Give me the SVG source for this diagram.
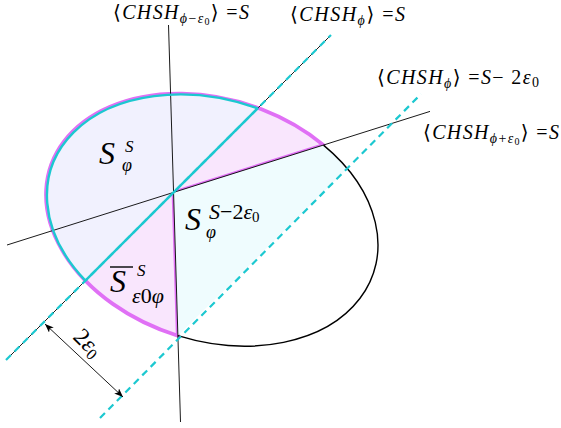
<svg xmlns="http://www.w3.org/2000/svg" width="561" height="428" viewBox="0 0 561 428">
<style>
.i{font-style:italic}
.thin{stroke:#000;stroke-width:0.9;fill:none}
.dash{stroke:#1cc8d0;stroke-width:2.2;stroke-dasharray:7 5;fill:none}
</style>
<defs>
<marker id="ah" viewBox="0 0 10 8" refX="10" refY="4" markerWidth="9" markerHeight="7" markerUnits="userSpaceOnUse" orient="auto-start-reverse"><path d="M0,0 L10,4 L0,8 L2.5,4 Z" fill="#000"/></marker>
</defs>
<g id="regions">
<path id="magenta-region" d="M173.5,192.5 L323.5,145.1 A170 120.8 17.9 1 0 177.8,335.7 Z" fill="#f9e6fd" stroke="#e070f5" stroke-width="3.8" stroke-linejoin="round"/>
<path id="cyan-wedge" d="M173.5,192.5 L323.5,145.1 A170 120.8 17.9 0 1 346.5,169.5 L177.8,335.7 Z" fill="#effcfe"/>
<path id="lavender-region" d="M257.6,108.4 A170 120.8 17.9 0 0 85.4,280.6 Z" fill="#f1f1fe"/>
<path id="ellipse-black-arc" d="M323.5,145.1 A170 120.8 17.9 0 1 177.8,335.7" fill="none" stroke="#000" stroke-width="1.4"/>
</g>
<g id="connectors">
<line class="thin" x1="168.5" y1="25" x2="180.5" y2="422"/>
<line class="thin" x1="7" y1="245" x2="430" y2="111.4"/>
<line class="thin" x1="6" y1="360" x2="331" y2="35"/>
<path d="M257.6,108.4 A170 120.8 17.9 0 0 85.4,280.6 Z" fill="none" stroke="#1cc8d0" stroke-width="2.4" stroke-linejoin="round"/>
<line class="dash" x1="6" y1="360" x2="331" y2="35"/>
<line class="dash" x1="100" y1="418" x2="421" y2="94"/>
<line x1="45" y1="324" x2="123" y2="397" stroke="#000" stroke-width="0.9" marker-start="url(#ah)" marker-end="url(#ah)"/>
</g>
<g id="labels" font-family="'Liberation Serif', 'DejaVu Serif', serif" fill="#000">
<text x="113" y="19" font-size="20" textLength="136" lengthAdjust="spacing">⟨<tspan class="i">CHSH</tspan><tspan class="i" font-size="14" dy="4">ϕ</tspan><tspan font-size="14">−</tspan><tspan class="i" font-size="14">ε</tspan><tspan font-size="10" dy="2">0</tspan><tspan dy="-6">⟩ =</tspan><tspan class="i">S</tspan></text>
<text x="290" y="21" font-size="20" textLength="115" lengthAdjust="spacing">⟨<tspan class="i">CHSH</tspan><tspan class="i" font-size="14" dy="4">ϕ</tspan><tspan dy="-4">⟩ =</tspan><tspan class="i">S</tspan></text>
<text x="377" y="84" font-size="20" textLength="162" lengthAdjust="spacing">⟨<tspan class="i">CHSH</tspan><tspan class="i" font-size="14" dy="4">ϕ</tspan><tspan dy="-4">⟩ =</tspan><tspan class="i">S</tspan>− 2<tspan class="i">ε</tspan><tspan font-size="14" dy="3">0</tspan></text>
<text x="423" y="139" font-size="20" textLength="136" lengthAdjust="spacing">⟨<tspan class="i">CHSH</tspan><tspan class="i" font-size="14" dy="4">ϕ</tspan><tspan font-size="14">+</tspan><tspan class="i" font-size="14">ε</tspan><tspan font-size="10" dy="2">0</tspan><tspan dy="-6">⟩ =</tspan><tspan class="i">S</tspan></text>
<g id="label-S">
<text x="99" y="164" font-size="32" class="i">S</text>
<text x="125" y="152" font-size="17" class="i">S</text>
<text x="122" y="171" font-size="18" class="i">φ</text>
</g>
<g id="label-S2e">
<text x="185" y="230" font-size="32" class="i">S</text>
<text x="209" y="219" font-size="22"><tspan class="i">S</tspan>−2<tspan class="i">ε</tspan><tspan font-size="15" dy="3">0</tspan></text>
<text x="206" y="238" font-size="18" class="i">φ</text>
</g>
<g id="label-Sbar">
<text x="110" y="292" font-size="32" class="i">S</text>
<line x1="110" y1="267" x2="133" y2="267" stroke="#000" stroke-width="1.4"/>
<text x="137" y="276" font-size="17" class="i">S</text>
<text x="132" y="303" font-size="22"><tspan class="i">ε</tspan>0<tspan class="i">φ</tspan></text>
</g>
<text transform="translate(72,338) rotate(45)" font-size="24">2<tspan class="i">ε</tspan><tspan font-size="16" dy="3">0</tspan></text>
</g>
</svg>
